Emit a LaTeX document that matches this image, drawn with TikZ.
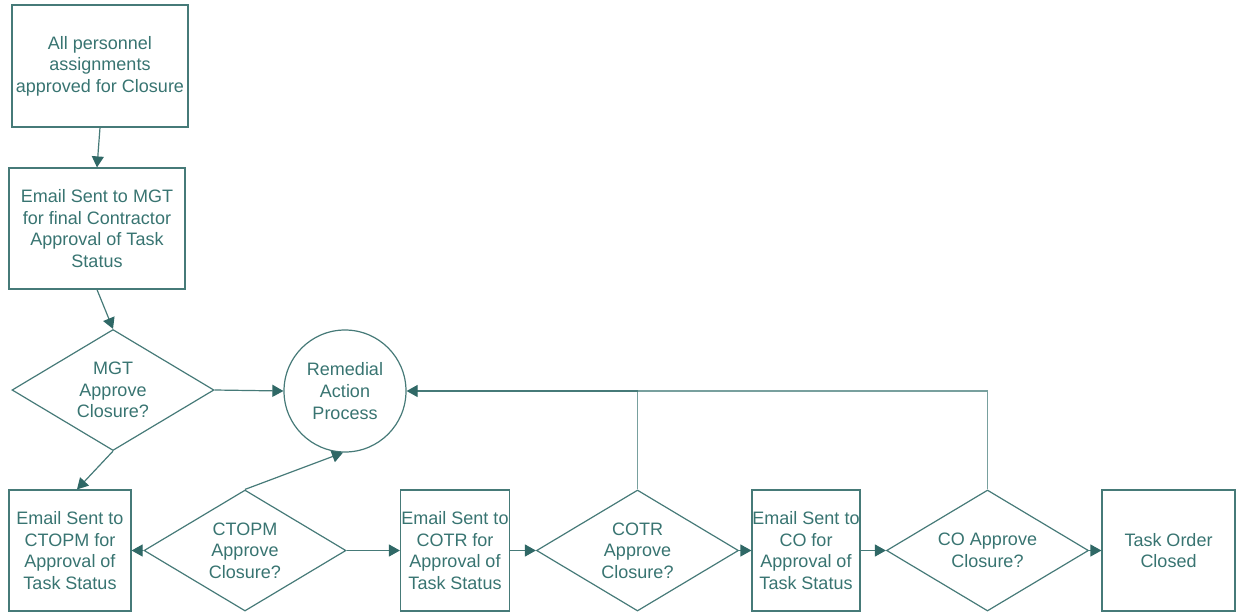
\documentclass[tikz,border=0pt]{standalone}
\usepackage{fontspec}
\setmainfont{Liberation Sans}
\usetikzlibrary{shapes.geometric,arrows.meta}
\definecolor{teal1}{RGB}{47,104,102}
\definecolor{line1}{RGB}{70,122,120}
\definecolor{line2}{RGB}{120,160,158}
\definecolor{txt1}{RGB}{56,116,113}
\tikzset{
  box/.style={draw=line1, line width=1.2pt, inner sep=0pt},
  dia/.style={draw=line1, line width=1.2pt, diamond, inner sep=0pt, minimum width=202pt, minimum height=121pt},
  circ/.style={draw=line1, line width=1.2pt, circle, inner sep=0pt, minimum size=122pt},
  txt/.style={text=txt1, font=\fontsize{18}{21.6}\selectfont, align=center, inner sep=0pt},
  conn/.style={draw=line1, line width=1.2pt, -{Triangle[length=11pt,width=12pt,fill=teal1,color=teal1]}},
  conn2/.style={draw=line2, line width=1.4pt},
}
\begin{document}
\begin{tikzpicture}[x=1pt,y=-1pt]
\useasboundingbox (0,0) rectangle (1236,613);
% process boxes
\node[box, minimum width=176pt, minimum height=122pt] (b1) at (100,66) {};
\node[txt] at (b1.center) {All personnel\\assignments\\approved for Closure};
\node[box, minimum width=176pt, minimum height=121pt] (b2) at (97,228.5) {};
\node[txt] at (b2.center) {Email Sent to MGT\\for final Contractor\\Approval of Task\\Status};
\node[dia] (d1) at (113,390) {};
\node[txt] at (d1.center) {MGT\\Approve\\Closure?};
\node[circ] (rem) at (345,391) {};
\node[txt] at (rem.center) {Remedial\\Action\\Process};
\node[box, minimum width=122pt, minimum height=121pt] (b3) at (70,550.5) {};
\node[txt] at (b3.center) {Email Sent to\\CTOPM for\\Approval of\\Task Status};
\node[dia] (d2) at (245,550.5) {};
\node[txt] at (d2.center) {CTOPM\\Approve\\Closure?};
\node[box, minimum width=109pt, minimum height=121pt] (b4) at (455,550.5) {};
\node[txt] at (b4.center) {Email Sent to\\COTR for\\Approval of\\Task Status};
\node[dia] (d3) at (637.5,550.5) {};
\node[txt] at (d3.center) {COTR\\Approve\\Closure?};
\node[box, minimum width=108pt, minimum height=121pt] (b5) at (806,550.5) {};
\node[txt] at (b5.center) {Email Sent to\\CO for\\Approval of\\Task Status};
\node[dia] (d4) at (987.5,550.5) {};
\node[txt] at (d4.center) {CO Approve\\Closure?};
\node[box, minimum width=133pt, minimum height=121pt] (b6) at (1168.5,550.5) {};
\node[txt] at (b6.center) {Task Order\\Closed};
% connectors
\draw[conn] (b1.south) -- (b2.north);
\draw[conn] (b2.south) -- (d1.north);
\draw[conn] (d1.east) -- (rem.west);
\draw[conn] (d1.south) -- ([xshift=7pt]b3.north);
\draw[conn] (d2.west) -- (b3.east);
\draw[conn] (d2.north) -- (rem.south -| 343,0) ;
\draw[conn] (d2.east) -- (b4.west);
\draw[conn] (b4.east) -- (d3.west);
\draw[conn] (d3.east) -- (b5.west);
\draw[conn] (b5.east) -- (d4.west);
\draw[conn] (d4.east) -- (b6.west);
\coordinate (j1) at (d3.north |- rem.east);
\coordinate (j2) at (d4.north |- rem.east);
\draw[conn2] (d3.north) -- (j1);
\draw[conn2] (d4.north) -- (j2) -- (j1);
\draw[conn] (j1) -- (rem.east);
\end{tikzpicture}
\end{document}
